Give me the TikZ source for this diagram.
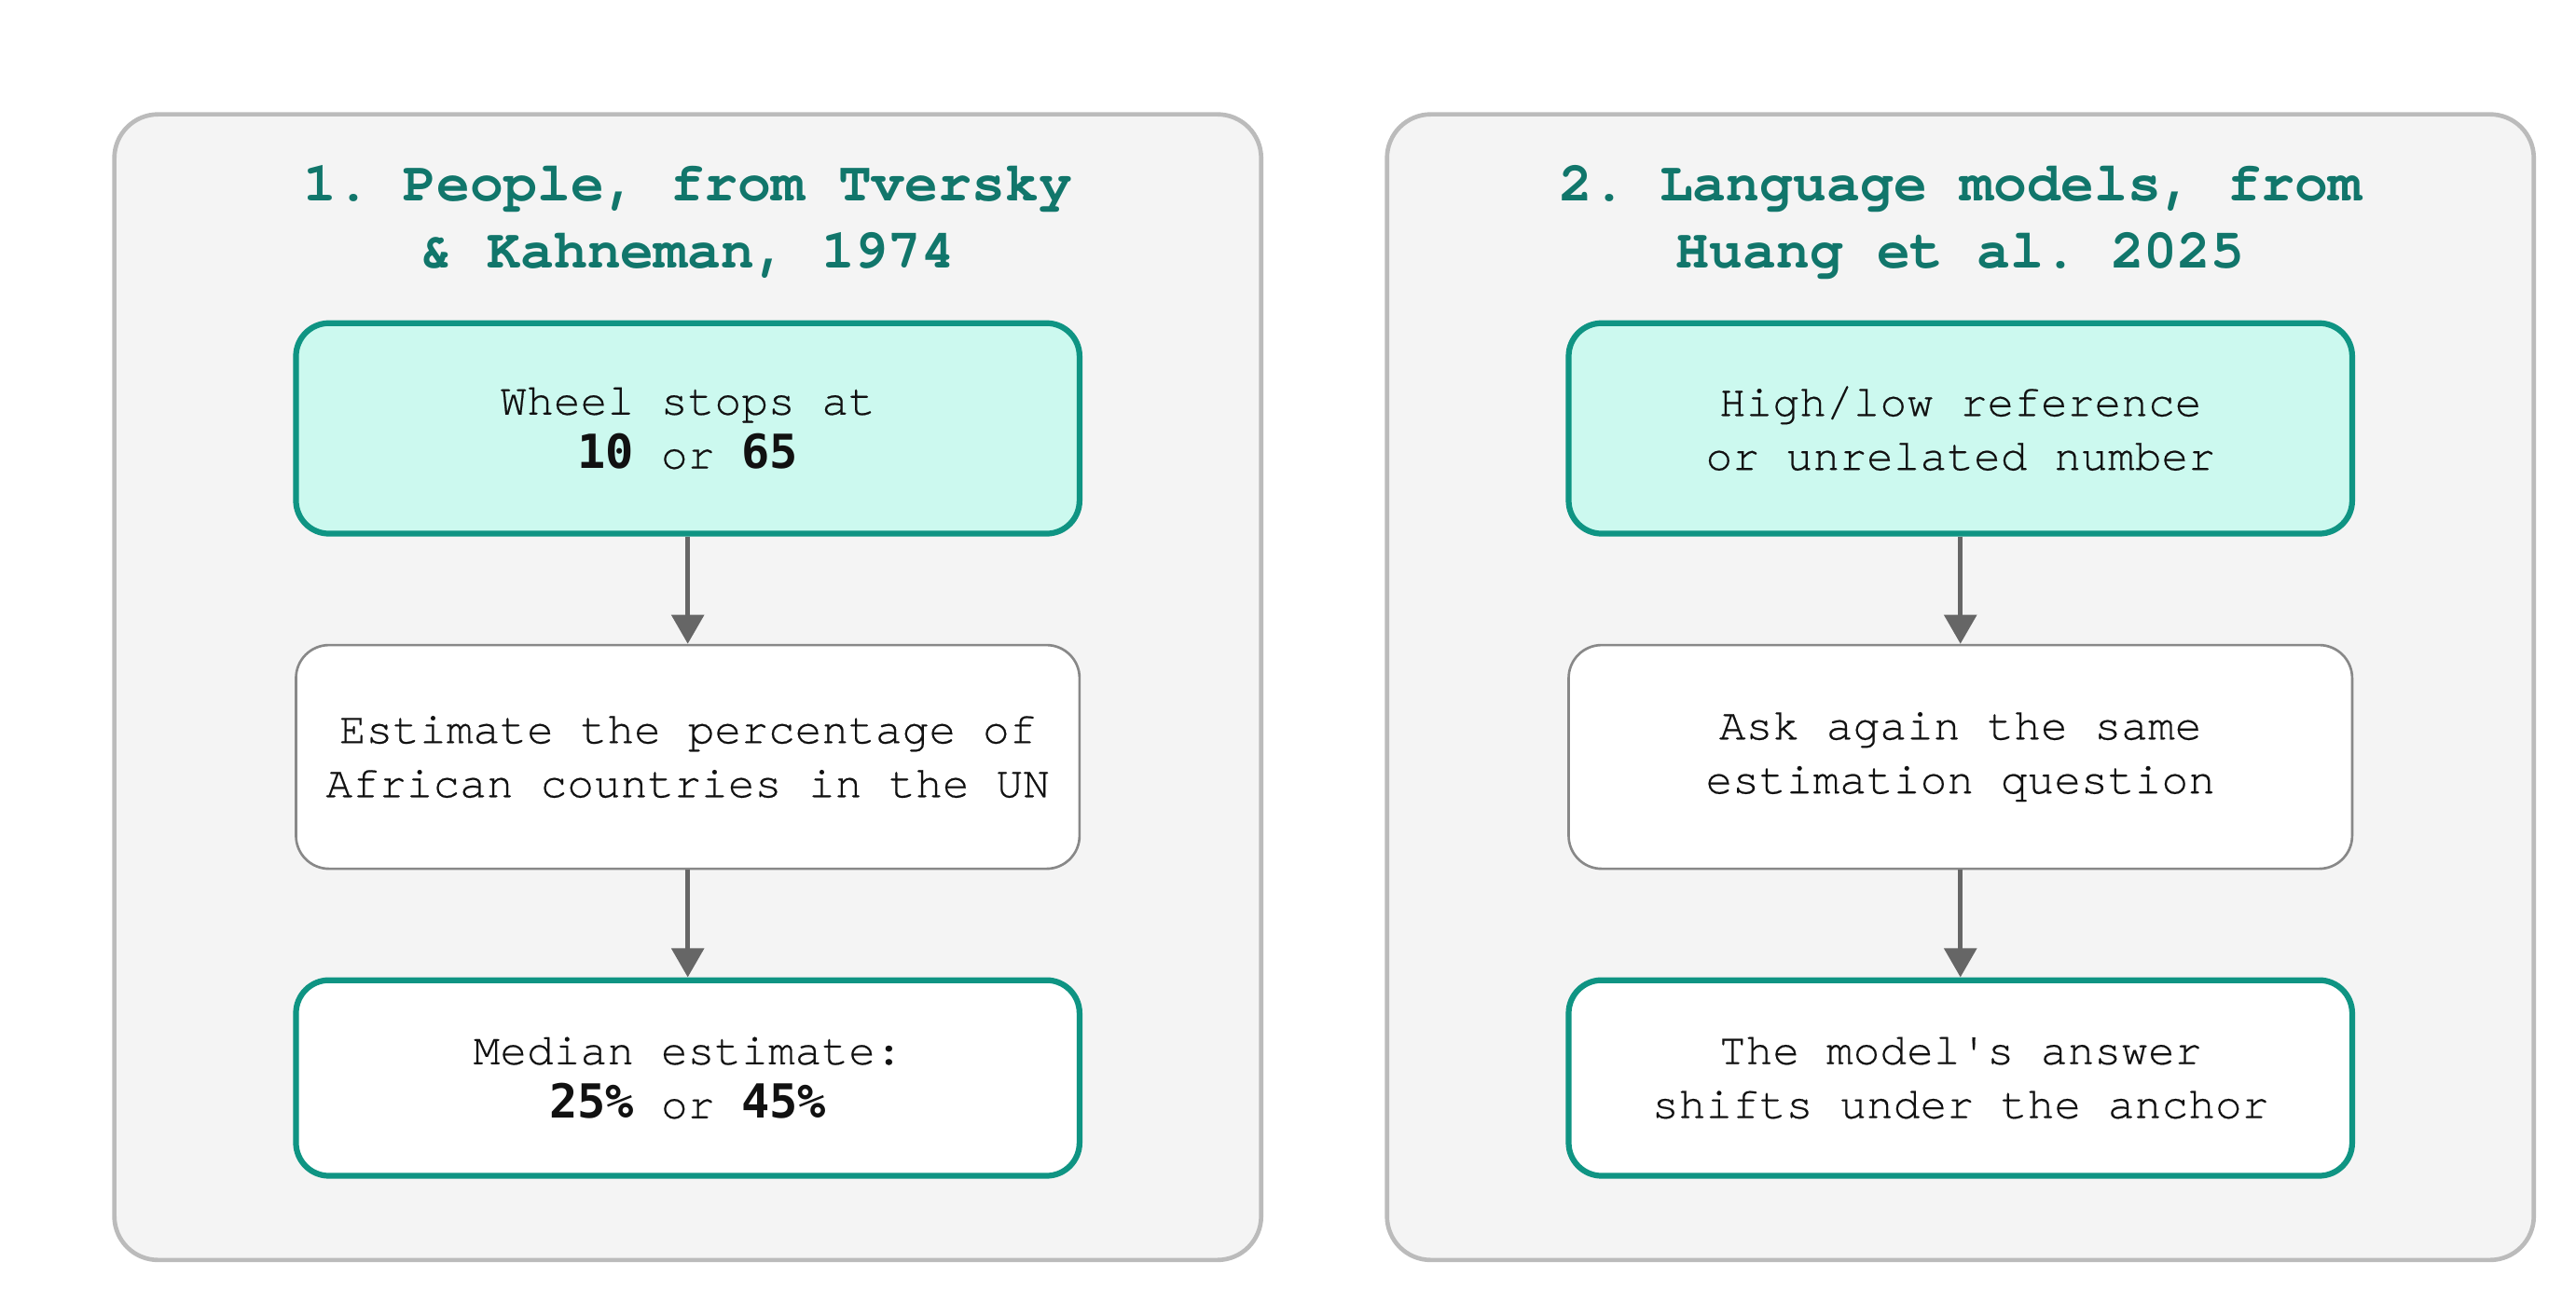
\documentclass[tikz,border=0pt]{standalone}
\usepackage{fontspec}
\usepackage{xcolor}
\usetikzlibrary{arrows.meta,positioning}
\newfontfamily\boxfont[FakeBold=0.4]{TeX Gyre Cursor}
\newfontfamily\titlefont{TeX Gyre Cursor}
\newfontfamily\numfont[Scale=1.05]{DejaVu Sans Mono}
\newcommand{\boldnum}[1]{{\numfont\bfseries #1}}
\frenchspacing
\definecolor{panelfill}{HTML}{F4F4F4}
\definecolor{paneldraw}{HTML}{BBBBBB}
\definecolor{titleteal}{HTML}{11766B}
\definecolor{boxteal}{HTML}{0F9483}
\definecolor{boxmint}{HTML}{CCF9EF}
\definecolor{boxgray}{HTML}{888888}
\definecolor{arrowgray}{HTML}{666666}
\definecolor{textdark}{HTML}{111111}

\begin{document}
\begin{tikzpicture}[>={Triangle[length=10pt,width=11pt]},
  panel/.style={draw=paneldraw,fill=panelfill,line width=1.5pt,rounded corners=0.53cm,minimum width=13.89cm,minimum height=13.88cm},
  title/.style={text=titleteal,align=center,font=\titlefont\bfseries\fontsize{19.2}{23.2}\selectfont},
  step box/.style={rounded corners=0.4cm,minimum width=9.49cm,align=center,text=textdark,font=\boxfont\fontsize{15.4}{18.6}\selectfont},
  start box/.style={step box,draw=boxteal,fill=boxmint,line width=2pt,minimum height=2.55cm},
  ask box/.style={step box,draw=boxgray,fill=white,line width=0.85pt,minimum height=2.71cm},
  result box/.style={step box,draw=boxteal,fill=white,line width=2pt,minimum height=2.37cm},
  flow/.style={->,draw=arrowgray,line width=1.7pt}]
\useasboundingbox (0,0) rectangle (31.2,-15.786);
% left panel: people
\node[panel] (panel1) at (8.33,-8.325) {};
\node[title] (title1) at (8.33,-2.69) {1. People, from Tversky\\\& Kahneman, 1974};
\node[start box] (wheel) at (8.33,-5.19) {Wheel stops at\\\boldnum{10} or \boldnum{65}};
\node[ask box] (estimate) at (8.33,-9.17) {Estimate the percentage of\\African countries in the UN};
\node[result box] (median) at (8.33,-13.06) {Median estimate:\\\boldnum{25\%} or \boldnum{45\%}};
\draw[flow] (wheel) -- (estimate);
\draw[flow] (estimate) -- (median);
% right panel: language models
\node[panel] (panel2) at (23.744,-8.325) {};
\node[title] (title2) at (23.744,-2.69) {2. Language models, from\\Huang et al. 2025};
\node[start box] (reference) at (23.744,-5.19) {High/low reference\\or unrelated number};
\node[ask box] (askagain) at (23.744,-9.17) {Ask again the same\\estimation question};
\node[result box] (shift) at (23.744,-13.06) {The model's answer\\shifts under the anchor};
\draw[flow] (reference) -- (askagain);
\draw[flow] (askagain) -- (shift);
\end{tikzpicture}
\end{document}
